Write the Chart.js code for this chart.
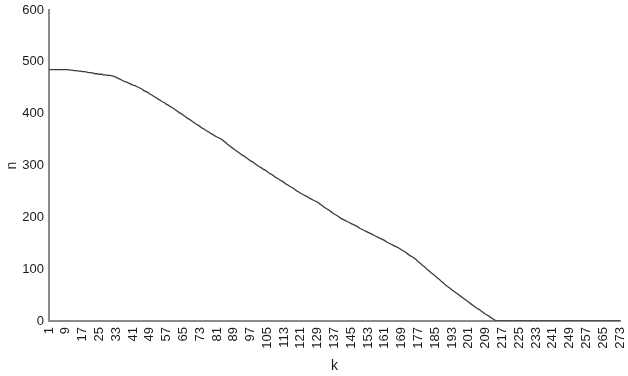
<!DOCTYPE html>
<html>
<head>
<meta charset="utf-8">
<script src="https://cdn.jsdelivr.net/npm/chart.js@4/dist/chart.umd.min.js"></script>
<style>
  html, body { margin: 0; padding: 0; background: #ffffff; }
  #wrap { width: 628px; height: 376px; position: relative; }
</style>
</head>
<body>
<div id="wrap"><canvas id="c" width="628" height="376"></canvas></div>
<script>
// k = 1 .. 273
const categories = [];
for (let k = 1; k <= 273; k++) categories.push(String(k));

const tickLabels = ["1","9","17","25","33","41","49","57","65","73","81","89","97","105","113","121","129","137","145","153","161","169","177","185","193","201","209","217","225","233","241","249","257","265","273"];

const yTicks = [0, 100, 200, 300, 400, 500, 600];

// n values, k = 1 .. 273
const nValues = [
  485,485,485,485,485,485,485,485,485,485,
  484,484,483,483,482,482,481,481,480,479,479,478,477,477,476,476,475,475,474,474,473,
  472,470,468,466,464,462,461,459,457,455,454,452,450,
  448,445,443,441,438,436,433,431,428,426,423,421,418,416,413,411,
  408,405,402,400,397,394,391,389,386,383,380,378,375,372,
  370,367,365,362,360,357,355,353,351,
  348,345,341,338,335,332,329,326,323,
  320,318,315,312,309,307,304,301,
  298,296,293,291,288,285,283,280,277,275,272,270,267,264,262,259,257,254,251,249,246,
  244,242,240,237,235,233,231,229,226,
  223,220,217,215,212,209,206,204,201,198,
  196,194,192,190,188,186,184,182,179,177,175,173,171,169,
  167,165,163,161,159,157,155,152,150,148,146,144,142,140,
  137,135,132,129,126,124,121,
  118,114,111,107,104,100,97,93,90,87,83,80,76,73,69,66,
  63,60,57,54,51,48,45,42,39,36,33,30,27,24,
  22,19,16,13,11,8,5,3,0,
  0,0,0,0,0,0,0,0,0,0,0,0,0,0,0,0,0,0,0,0,
  0,0,0,0,0,0,0,0,0,0,0,0,0,0,0,0,0,0,0,0,
  0,0,0,0,0,0,0,0,0,0,0,0,0,0,0,0,0,0,0
];

const FONT = "'Liberation Sans', Arial, sans-serif";
const TEXT = '#1a1a1a';
const AXIS = '#8a8a8a';

new Chart(document.getElementById('c'), {
  type: 'line',
  data: {
    labels: categories,
    datasets: [{
      data: nValues,
      borderColor: '#3c3c3c',
      borderWidth: 1.3,
      pointRadius: 0,
      tension: 0,
      fill: false
    }]
  },
  options: {
    responsive: false,
    animation: false,
    devicePixelRatio: 1,
    layout: { padding: { left: 0, right: 8, top: 10, bottom: 0 } },
    plugins: { legend: { display: false }, tooltip: { enabled: false } },
    scales: {
      x: {
        type: 'category',
        offset: false,
        z: 1,
        grid: { display: false, drawTicks: false },
        border: { display: true, color: AXIS, width: 2 },
        ticks: {
          autoSkip: false,
          maxRotation: 90,
          minRotation: 90,
          padding: 6,
          color: TEXT,
          font: { family: FONT, size: 13 },
          callback: function(value, index) {
            const lab = categories[index];
            return tickLabels.includes(lab) ? lab : null;
          }
        },
        title: {
          display: true,
          text: 'k',
          color: TEXT,
          font: { family: FONT, size: 14 },
          padding: { top: 4, bottom: 1 }
        },
        afterFit: function(scale) {
          scale.height = 55;
          scale.paddingLeft = 0;
          scale.paddingRight = 0;
        }
      },
      y: {
        min: 0,
        max: 600,
        grid: { display: false, drawTicks: false },
        border: { display: true, color: AXIS, width: 2 },
        afterBuildTicks: function(scale) { scale.ticks = yTicks.map(v => ({ value: v })); },
        ticks: {
          padding: 5,
          color: TEXT,
          font: { family: FONT, size: 13 }
        },
        title: {
          display: true,
          text: 'n',
          color: TEXT,
          font: { family: FONT, size: 14 },
          padding: { top: 4, bottom: 0 }
        },
        afterFit: function(scale) {
          scale.width = 49;
          scale.paddingTop = 0;
          scale.paddingBottom = 0;
        }
      }
    }
  }
});
</script>
</body>
</html>
